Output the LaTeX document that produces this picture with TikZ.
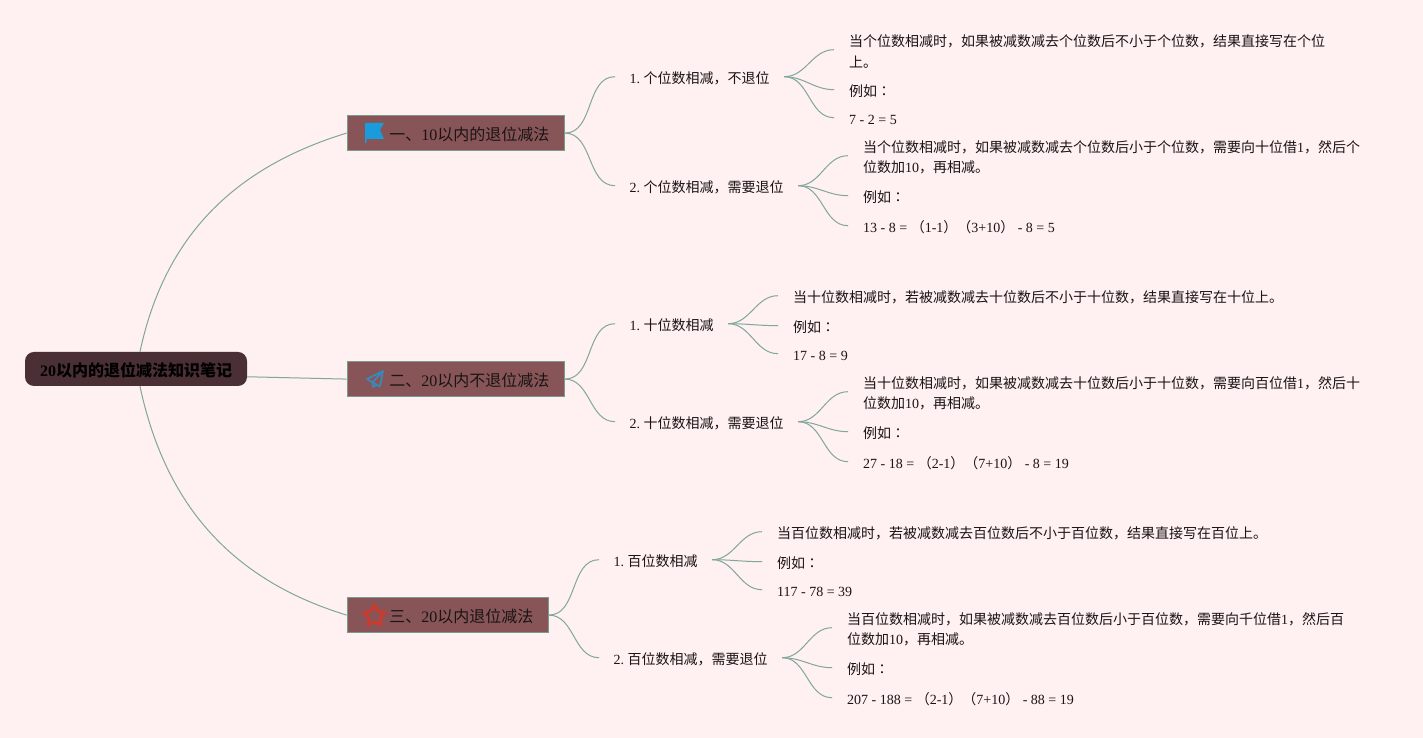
\documentclass[tikz,border=0pt]{standalone}
\usepackage{fontspec}
\setmainfont{Noto Sans CJK SC}
\newfontfamily\latinfont{Liberation Serif}
\newfontfamily\cjkalt{Noto Sans CJK TC}
\newcommand{\lat}[1]{{\latinfont #1}}
\newcommand{\alt}[1]{{\cjkalt #1}}
\definecolor{paper}{HTML}{FFF0F1}
\definecolor{linkgreen}{HTML}{7FA899}
\definecolor{rootfill}{HTML}{4A3034}
\definecolor{topicfill}{HTML}{875557}
\definecolor{topicline}{HTML}{7A9A90}
\definecolor{inkdark}{HTML}{1A1414}
\definecolor{flagblue}{HTML}{1A9BDC}
\definecolor{planeblue}{HTML}{3D86B8}
\definecolor{starred}{HTML}{CF3A2E}
\tikzset{
  link/.style={draw=linkgreen, line width=1pt},
  leaflink/.style={link, transform canvas={yshift=1.8pt}},
  rootnode/.style={fill=rootfill, rounded corners=9pt, minimum width=222pt, minimum height=34pt, inner sep=0pt, text height=18pt, text depth=2pt, font=\fontsize{16}{20}\selectfont\bfseries, text=black},
  topicnode/.style={draw=topicline, fill=topicfill, line width=1pt, anchor=west, minimum height=35.4pt, inner sep=0pt, text height=17.5pt, text depth=2.5pt, font=\fontsize{16}{20}\selectfont, text=inkdark},
  branchnode/.style={anchor=west, yshift=-0.5pt, inner xsep=14.4pt, inner ysep=2pt, font=\fontsize{14}{20}\selectfont\frenchspacing, text=inkdark},
  leafnode/.style={anchor=west, yshift=-0.5pt, inner xsep=15pt, inner ysep=2pt, align=left, font=\fontsize{14}{20.5}\selectfont\frenchspacing, text=inkdark}
}
\begin{document}
\begin{tikzpicture}[x=1pt,y=1pt]
\useasboundingbox (0,0) rectangle (1423,738);
\fill [paper] (0,0) rectangle (1423,738);

\node [rootnode] (root) at (136,369) {\lat{\bfseries 20}以内的退位减法知识笔记};

\node [topicnode] (topicA) at (346.6,604.9) {\hspace*{42.2pt}一、\lat{10}以内的退位减法\hspace*{15pt}};
\node [topicnode] (topicB) at (346.6,358.9) {\hspace*{42.2pt}二、\lat{20}以内不退位减法\hspace*{15pt}};
\node [topicnode] (topicC) at (346.6,122.9) {\hspace*{42.2pt}三、\lat{20}以内退位减法\hspace*{15pt}};

\draw [link] (root.77) to [out=78,in=197] (topicA.west);
\draw [link] (root.-4) -- (topicB.west);
\draw [link] (root.-77) to [out=-78,in=-197] (topicC.west);

% icons
\fill [flagblue] (365,615) -- (384,615) -- (380,608) -- (384,599) -- (366.5,599) -- (366.5,595) -- (365,595) -- cycle;
\draw [planeblue, line width=1.8pt, line join=round] (383,367) -- (367,359) -- (372.5,355.5) -- cycle;
\draw [planeblue, line width=1.8pt, line join=round] (383,367) -- (380,351.5) -- (372.5,355.5) -- (373,351) -- (377,353.5);
\draw [starred, line width=2.8pt, line join=round] (374.5,133) -- (378,126.9) -- (385,125.4) -- (380.2,120.1) -- (381,113.1) -- (374.5,116) -- (368,113.1) -- (368.8,120.1) -- (364,125.4) -- (371,126.9) -- cycle;

% first topic
\node [branchnode] (branchAa) at (615,660) {\lat{1. }个位数相减，不退位};
\node [branchnode] (branchAb) at (615,551) {\lat{2. }个位数相减，需要退位};
\draw [link] (topicA.east) to [out=0,in=180] ([yshift=1.8pt]branchAa.west);
\draw [link] (topicA.east) to [out=0,in=180] ([yshift=1.8pt]branchAb.west);

\node [leafnode] (leafAa) at (834,687) {当个位数相减时，如果被减数减去个位数后不小于个位数，结果直接写在个位\\上。};
\node [leafnode] (leafAb) at (834,647) {例如\alt{：}};
\node [leafnode] (leafAc) at (834,619) {\lat{7 - 2 = 5}};
\draw [leaflink] (branchAa.east) to [out=0,in=180] (leafAa.west);
\draw [leaflink] (branchAa.east) to [out=0,in=180] (leafAb.west);
\draw [leaflink] (branchAa.east) to [out=0,in=180] (leafAc.west);

\node [leafnode] (leafAd) at (848,581) {当个位数相减时，如果被减数减去个位数后小于个位数，需要向十位借\lat{1}，然后个\\位数加\lat{10}，再相减。};
\node [leafnode] (leafAe) at (848,541) {例如\alt{：}};
\node [leafnode] (leafAf) at (848,511) {\lat{13 - 8 = }\alt{（}\lat{1-1}\alt{）（}\lat{3+10}\alt{）}\lat{ - 8 = 5}};
\draw [leaflink] (branchAb.east) to [out=0,in=180] (leafAd.west);
\draw [leaflink] (branchAb.east) to [out=0,in=180] (leafAe.west);
\draw [leaflink] (branchAb.east) to [out=0,in=180] (leafAf.west);

% second topic
\node [branchnode] (branchBa) at (615,413) {\lat{1. }十位数相减};
\node [branchnode] (branchBb) at (615,315) {\lat{2. }十位数相减，需要退位};
\draw [link] (topicB.east) to [out=0,in=180] ([yshift=1.8pt]branchBa.west);
\draw [link] (topicB.east) to [out=0,in=180] ([yshift=1.8pt]branchBb.west);

\node [leafnode] (leafBa) at (778,441) {当十位数相减时，若被减数减去十位数后不小于十位数，结果直接写在十位上。};
\node [leafnode] (leafBb) at (778,411) {例如\alt{：}};
\node [leafnode] (leafBc) at (778,383) {\lat{17 - 8 = 9}};
\draw [leaflink] (branchBa.east) to [out=0,in=180] (leafBa.west);
\draw [leaflink] (branchBa.east) to [out=0,in=180] (leafBb.west);
\draw [leaflink] (branchBa.east) to [out=0,in=180] (leafBc.west);

\node [leafnode] (leafBd) at (848,345) {当十位数相减时，如果被减数减去十位数后小于十位数，需要向百位借\lat{1}，然后十\\位数加\lat{10}，再相减。};
\node [leafnode] (leafBe) at (848,305) {例如\alt{：}};
\node [leafnode] (leafBf) at (848,275) {\lat{27 - 18 = }\alt{（}\lat{2-1}\alt{）（}\lat{7+10}\alt{）}\lat{ - 8 = 19}};
\draw [leaflink] (branchBb.east) to [out=0,in=180] (leafBd.west);
\draw [leaflink] (branchBb.east) to [out=0,in=180] (leafBe.west);
\draw [leaflink] (branchBb.east) to [out=0,in=180] (leafBf.west);

% third topic
\node [branchnode] (branchCa) at (599,177) {\lat{1. }百位数相减};
\node [branchnode] (branchCb) at (599,79) {\lat{2. }百位数相减，需要退位};
\draw [link] (topicC.east) to [out=0,in=180] ([yshift=1.8pt]branchCa.west);
\draw [link] (topicC.east) to [out=0,in=180] ([yshift=1.8pt]branchCb.west);

\node [leafnode] (leafCa) at (762,205) {当百位数相减时，若被减数减去百位数后不小于百位数，结果直接写在百位上。};
\node [leafnode] (leafCb) at (762,175) {例如\alt{：}};
\node [leafnode] (leafCc) at (762,147) {\lat{117 - 78 = 39}};
\draw [leaflink] (branchCa.east) to [out=0,in=180] (leafCa.west);
\draw [leaflink] (branchCa.east) to [out=0,in=180] (leafCb.west);
\draw [leaflink] (branchCa.east) to [out=0,in=180] (leafCc.west);

\node [leafnode] (leafCd) at (832,109) {当百位数相减时，如果被减数减去百位数后小于百位数，需要向千位借\lat{1}，然后百\\位数加\lat{10}，再相减。};
\node [leafnode] (leafCe) at (832,69) {例如\alt{：}};
\node [leafnode] (leafCf) at (832,39) {\lat{207 - 188 = }\alt{（}\lat{2-1}\alt{）（}\lat{7+10}\alt{）}\lat{ - 88 = 19}};
\draw [leaflink] (branchCb.east) to [out=0,in=180] (leafCd.west);
\draw [leaflink] (branchCb.east) to [out=0,in=180] (leafCe.west);
\draw [leaflink] (branchCb.east) to [out=0,in=180] (leafCf.west);
\end{tikzpicture}
\end{document}
